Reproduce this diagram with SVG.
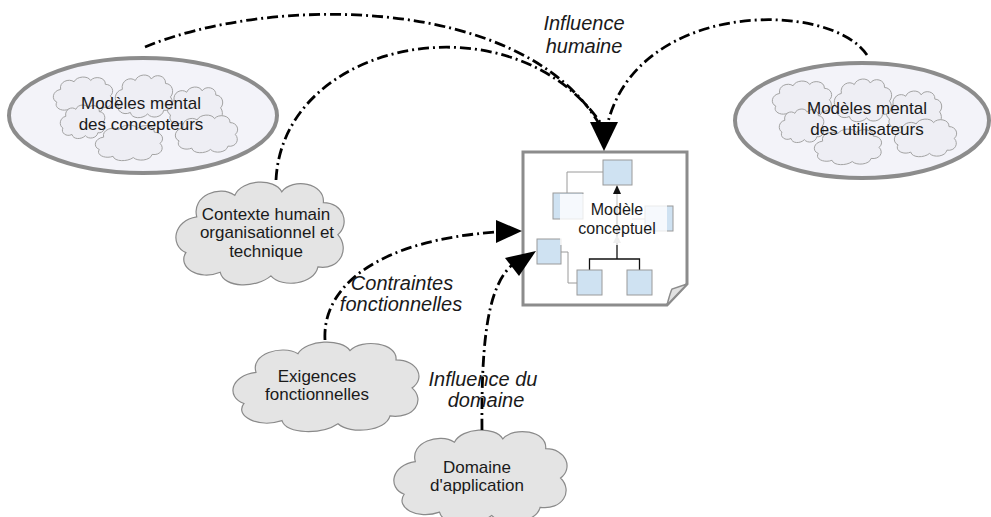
<svg xmlns="http://www.w3.org/2000/svg" xmlns:xlink="http://www.w3.org/1999/xlink" width="991" height="517" viewBox="0 0 991 517">
  <style>
    text { font-family: "Liberation Sans", Arial, Helvetica, sans-serif; fill: #1a1a1a; text-anchor: middle; }
    .lbl { font-size: 17px; }
    .doc-lbl { font-size: 16px; }
    .edge-lbl { font-size: 20px; font-style: italic; }
    .halo { fill: #f3f3f9; stroke: #8c8c8c; stroke-width: 4; }
    .cloud-soft { fill: #eeeef4; stroke: #a3a3a3; stroke-width: 1; }
    .cloud { fill: #e4e4e4; stroke: #8a8a8a; stroke-width: 1.2; }
    .box { fill: #cfe2f2; stroke: #9a9a9a; stroke-width: 1; }
    .thin { fill: none; stroke: #9a9a9a; stroke-width: 1; }
    .tree { fill: none; stroke: #111; stroke-width: 1.3; }
    .flow { fill: none; stroke: #000; stroke-width: 2.8; stroke-dasharray: 11 4 2 4; }
    .head { fill: #000; }
  </style>
  <defs>
    <!-- generic cloud outline in a 100 x 60 box -->
    <path id="cloud" vector-effect="non-scaling-stroke"
          d="M15,22 C12,10 28,4 36,10 C40,1 58,0 62,8 C68,0 86,3 85,14 C96,14 100,26 93,32 C100,40 94,52 82,50 C80,60 62,62 56,55 C48,62 30,62 28,53 C16,58 4,50 9,42 C0,38 2,24 15,22 Z"/>
    <!-- cluster of overlapping clouds used inside the mental-model ellipses -->
    <g id="cloud-cluster" class="cloud-soft">
      <use xlink:href="#cloud" transform="translate(165.2,85.2) scale(0.596,0.708)"/>
      <use xlink:href="#cloud" transform="translate(173,113.4) scale(0.670,0.655)"/>
      <use xlink:href="#cloud" transform="translate(113.1,73.1) scale(0.617,0.743)"/>
      <use xlink:href="#cloud" transform="translate(51.1,75.4) scale(0.638,0.637)"/>
      <use xlink:href="#cloud" transform="translate(58.6,103.5) scale(0.479,0.584)"/>
      <use xlink:href="#cloud" transform="translate(92.8,123.5) scale(0.723,0.619)"/>
    </g>
  </defs>

  <rect width="991" height="517" fill="#ffffff"/>

  <!-- designers' mental models -->
  <g id="mental-designers">
    <ellipse class="halo" cx="143" cy="115.5" rx="134" ry="57.5"/>
    <use xlink:href="#cloud-cluster"/>
    <text class="lbl" x="141" y="109">Modèles mental</text>
    <text class="lbl" x="141" y="130">des concepteurs</text>
  </g>

  <!-- users' mental models -->
  <g id="mental-users">
    <ellipse class="halo" cx="862" cy="120.5" rx="127" ry="57.5"/>
    <use xlink:href="#cloud-cluster" transform="translate(719,4)"/>
    <text class="lbl" x="867" y="114">Modèles mental</text>
    <text class="lbl" x="867" y="135">des utilisateurs</text>
  </g>

  <!-- human, organisational and technical context -->
  <g id="context">
    <use xlink:href="#cloud" class="cloud" transform="translate(169.6,177.5) scale(1.809,1.788)"/>
    <text class="lbl" x="266" y="220">Contexte humain</text>
    <text class="lbl" x="267" y="238">organisationnel et</text>
    <text class="lbl" x="266" y="257">technique</text>
  </g>

  <!-- functional requirements -->
  <g id="requirements">
    <use xlink:href="#cloud" class="cloud" transform="translate(226,338.1) scale(2.0,1.557)"/>
    <text class="lbl" x="317" y="382">Exigences</text>
    <text class="lbl" x="317" y="400">fonctionnelles</text>
  </g>

  <!-- application domain -->
  <g id="domain">
    <use xlink:href="#cloud" class="cloud" transform="translate(387.4,425.9) scale(1.862,1.628)"/>
    <text class="lbl" x="477" y="473">Domaine</text>
    <text class="lbl" x="477" y="491">d'application</text>
  </g>

  <!-- conceptual model sheet -->
  <g id="conceptual-model">
    <path d="M523,152 H687 V284 L667,305 H523 Z" fill="#ffffff" stroke="#8c8c8c" stroke-width="3"/>
    <path d="M667,305 C669,298 670,293 672,289 L687,284 Z" fill="#e2e2e2" stroke="#8c8c8c" stroke-width="1.5"/>
    <!-- grey links -->
    <path class="thin" d="M603,172 H567 V193"/>
    <path class="thin" d="M632,219 H645"/>
    <path class="thin" d="M561,252 H568 V283 H577"/>
    <!-- black hierarchy -->
    <path class="tree" d="M589.5,270 V259 H639.5 V270 M617,259 V192"/>
    <polygon points="613,194 621,194 617,185" fill="#111"/>
    <polygon points="613,243 621,243 617,235" fill="#aaaaaa"/>
    <rect class="box" x="603" y="160" width="29" height="25"/>
    <rect class="box" x="553" y="193" width="30" height="26"/>
    <rect class="box" x="645" y="206" width="28" height="25"/>
    <rect class="box" x="537" y="239" width="24" height="25"/>
    <rect class="box" x="577" y="270" width="25" height="25"/>
    <rect class="box" x="627" y="270" width="25" height="25"/>
    <!-- label backdrop -->
    <rect x="560" y="194" width="107" height="51" fill="#ffffff" fill-opacity="0.8"/>
    <text class="doc-lbl" x="617" y="215">Modèle</text>
    <text class="doc-lbl" x="617" y="234">conceptuel</text>
  </g>

  <!-- influences -->
  <g id="connectors">
    <path class="flow" d="M145,47 C270,-5 520,-5 598,122"/>
    <path class="flow" d="M276,180 C283,40 510,-5 600,122"/>
    <path class="flow" d="M867,55 C830,0 640,0 608,122"/>
    <path class="flow" d="M325,340 C322,285 380,240 497,232"/>
    <path class="flow" d="M482,430 C481,330 490,285 512,265"/>
    <polygon class="head" points="590,122 618,122 604,151"/>
    <polygon class="head" points="496,220 496,243 522,231"/>
    <polygon class="head" points="505,258 519,276 536,251"/>
    <text class="edge-lbl" x="584" y="30">Influence</text>
    <text class="edge-lbl" x="584" y="53">humaine</text>
    <text class="edge-lbl" x="402" y="290">Contraintes</text>
    <text class="edge-lbl" x="401" y="311">fonctionnelles</text>
    <text class="edge-lbl" x="483" y="386">Influence du</text>
    <text class="edge-lbl" x="486" y="407">domaine</text>
  </g>
</svg>
